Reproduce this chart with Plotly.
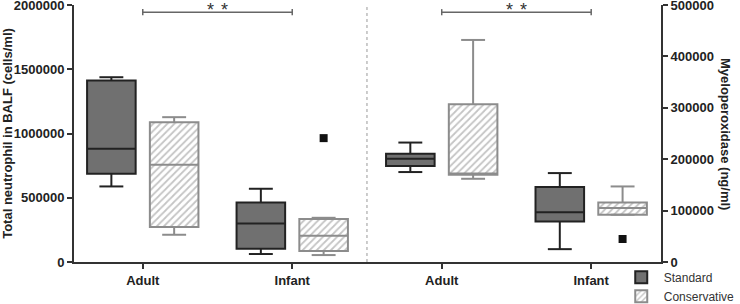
import plotly.graph_objects as go

# ---------------- data ----------------
groups = ["Adult", "Infant", "Adult", "Infant"]          # tick labels
group_pos = [0, 1, 2, 3]                                   # category slots
panel_axis = ["y", "y", "y2", "y2"]                        # left: neutrophil, right: MPO

# Standard (box stats per group)
std_lower = [588000, 62000, 175000, 25000]
std_q1 = [687000, 103000, 186600, 79000]
std_median = [881000, 300000, 200700, 97000]
std_q3 = [1412000, 463000, 210400, 146000]
std_upper = [1438000, 570000, 232400, 173000]

# Conservative
con_lower = [212000, 54000, 161900, 92000]
con_q1 = [272000, 86000, 169600, 92000]
con_median = [756000, 204000, 172000, 105000]
con_q3 = [1088000, 334000, 307000, 116000]
con_upper = [1127000, 344000, 432000, 147000]

# outliers (group index, value)
con_out_group = [1, 3]
con_out_value = [964000, 44700]

left_ticks = [0, 500000, 1000000, 1500000, 2000000]
right_ticks = [0, 100000, 200000, 300000, 400000, 500000]

# ---------------- style ----------------
OFF = 0.21
BW = 0.325
CAP = 0.16
STD_FILL = "#707070"
STD_LINE = "#222222"
CON_LINE = "#8c8c8c"
FONT = "Liberation Sans, Arial, sans-serif"

fig = go.Figure()


def add_series(name, lower, q1, med, q3, upper, offset, fill, line, pattern):
    for ax in ["y", "y2"]:
        idx = [i for i in range(4) if panel_axis[i] == ax]
        xs = [group_pos[i] + offset for i in idx]
        marker = dict(color=fill, line=dict(color=line, width=2))
        if pattern:
            marker["pattern"] = dict(shape="/", fgcolor="#8a8a8a", bgcolor="white",
                                     size=5, solidity=0.35)
        fig.add_trace(go.Bar(
            x=xs, y=[q3[i] - q1[i] for i in idx], base=[q1[i] for i in idx],
            width=BW, marker=marker, name=name, yaxis=ax,
            showlegend=(ax == "y"), legendgroup=name, hoverinfo="skip"))
        # whiskers, caps, median
        wx, wy = [], []
        for i in idx:
            c = group_pos[i] + offset
            wx += [c, c, None, c - CAP / 2, c + CAP / 2, None,
                   c, c, None, c - CAP / 2, c + CAP / 2, None,
                   c - BW / 2, c + BW / 2, None]
            wy += [q3[i], upper[i], None, upper[i], upper[i], None,
                   q1[i], lower[i], None, lower[i], lower[i], None,
                   med[i], med[i], None]
        fig.add_trace(go.Scatter(x=wx, y=wy, mode="lines", yaxis=ax,
                                 line=dict(color=line, width=2),
                                 showlegend=False, hoverinfo="skip"))


add_series("Standard", std_lower, std_q1, std_median, std_q3, std_upper,
           -OFF, STD_FILL, STD_LINE, False)
add_series("Conservative", con_lower, con_q1, con_median, con_q3, con_upper,
           OFF, "white", CON_LINE, True)

for g, v in zip(con_out_group, con_out_value):
    fig.add_trace(go.Scatter(x=[group_pos[g] + OFF], y=[v], mode="markers",
                             yaxis=panel_axis[g], cliponaxis=False,
                             marker=dict(symbol="square", size=8, color="#111111"),
                             showlegend=False, hoverinfo="skip"))

# significance brackets & divider
BR_Y = 0.972
BR_T = 0.012
shapes = []
for a, b in [(0, 1), (2, 3)]:
    shapes.append(dict(type="line", xref="x", yref="y domain", x0=a, x1=b, y0=BR_Y, y1=BR_Y,
                       line=dict(color="#666666", width=1.5)))
    for xv in (a, b):
        shapes.append(dict(type="line", xref="x", yref="y domain", x0=xv, x1=xv,
                           y0=BR_Y - BR_T, y1=BR_Y + BR_T, line=dict(color="#666666", width=1.5)))
shapes.append(dict(type="line", xref="x", yref="y domain", x0=1.5, x1=1.5, y0=0, y1=1,
                   line=dict(color="#999999", width=1, dash="dot")))

annotations = []
for a, b in [(0, 1), (2, 3)]:
    for dx in (-7, 7):
        annotations.append(dict(x=(a + b) / 2, y=BR_Y, xref="x", yref="y domain",
                                text="*", showarrow=False, yanchor="middle", yshift=2,
                                xshift=dx,
                                font=dict(family=FONT, size=18, color="#333333")))
annotations.append(dict(x=1.0, xref="paper", xshift=74, y=0.5, yref="paper",
                        text="<b>Myeloperoxidase (ng/ml)</b>", textangle=90,
                        showarrow=False, font=dict(family=FONT, size=13, color="#222222")))

axis_common = dict(showline=True, linecolor="#333333", linewidth=2, ticks="outside",
                   ticklen=5, tickwidth=2, tickcolor="#333333", showgrid=False,
                   zeroline=False, automargin=False,
                   tickfont=dict(family=FONT, size=13, color="#222222", weight="bold"))

fig.update_layout(
    width=740, height=304,
    margin=dict(l=74, r=79, t=5, b=42, autoexpand=False),
    plot_bgcolor="white", paper_bgcolor="white",
    barmode="overlay",
    shapes=shapes, annotations=annotations,
    xaxis=dict(range=[-0.46, 3.467], tickvals=group_pos, ticktext=groups, **axis_common),
    yaxis=dict(range=[0, 2000000], tickvals=left_ticks, tickformat="d",
               ticklabeloverflow="allow",
               title=dict(text="<b>Total neutrophil in BALF (cells/ml)</b>", standoff=5,
                          font=dict(family=FONT, size=13, color="#222222")),
               **axis_common),
    yaxis2=dict(range=[0, 500000], tickvals=right_ticks, tickformat="d",
                ticklabeloverflow="allow",
                overlaying="y", side="right", anchor="x", **axis_common),
    legend=dict(x=0.928, xanchor="left", y=-0.003, yanchor="top",
                font=dict(family=FONT, size=12, color="#333333"),
                itemwidth=35, bgcolor="rgba(0,0,0,0)", tracegroupgap=0),
    showlegend=True,
)

fig.write_html("out.html", config={"displayModeBar": False},
               post_script="document.body.style.margin='0';document.body.style.padding='0';")
